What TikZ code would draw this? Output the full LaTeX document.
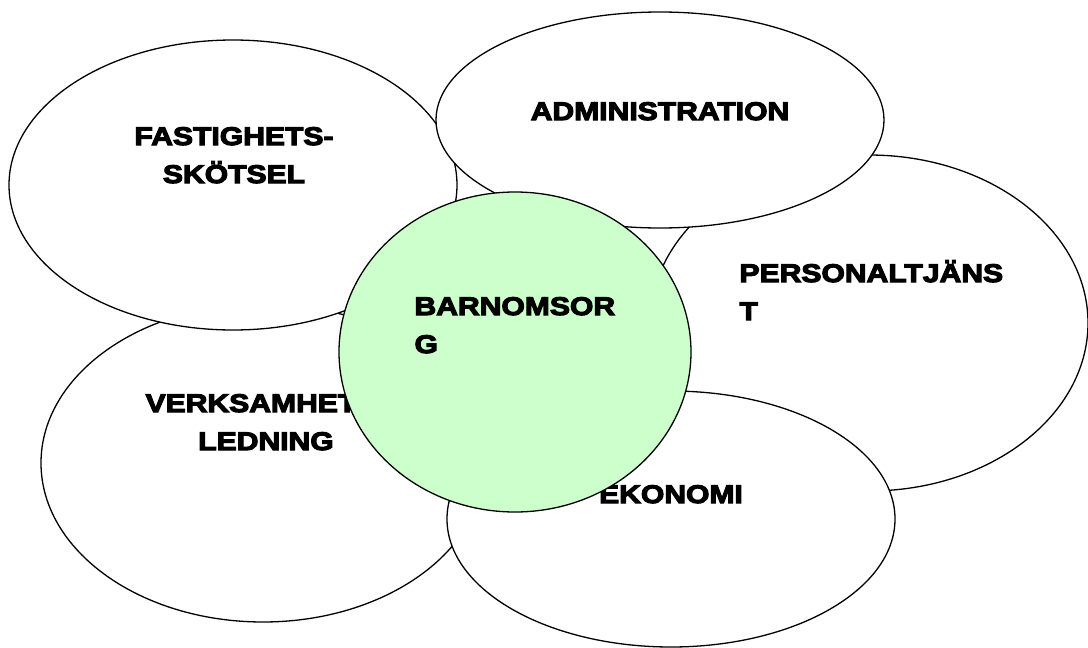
\documentclass[tikz,border=0pt]{standalone}
\usepackage{fontspec}
\usetikzlibrary{shapes.geometric}
\newfontfamily\lblfont{Liberation Sans}[FakeStretch=1.18,FakeBold=4.5]
\definecolor{ljusgron}{HTML}{CCFFCC}
\begin{document}
\begin{tikzpicture}[x=1pt,y=-1pt,
    blob/.style={draw, ellipse, fill=white, line width=1.3pt, inner sep=0pt},
    lbl/.style={font=\lblfont\bfseries\fontsize{25.5}{38}\selectfont, anchor=base, align=center}]
        \useasboundingbox (0,0) rectangle (1088,648);
        \node[blob, minimum width=444, minimum height=318] (verk) at (263,463) {};
        \node[lbl] (verktext) at (266,450) {VERKSAMHETS-\\LEDNING};
        \node[blob, minimum width=438, minimum height=336] (pers) at (869,323) {};
        \node[lbl, anchor=base west, align=left] (perstext) at (736,320) {PERSONALTJÄNS\\T};
        \node[blob, minimum width=448, minimum height=290] (fast) at (233,185) {};
        \node[lbl] (fasttext) at (234,183) {FASTIGHETS-\\SKÖTSEL};
        \node[blob, minimum width=448, minimum height=216] (adm) at (660,120) {};
        \node[lbl] (admtext) at (660,120) {ADMINISTRATION};
        \node[blob, minimum width=448, minimum height=256] (eko) at (671,519) {};
        \node[lbl] (ekotext) at (671,503) {EKONOMI};
        \node[blob, fill=ljusgron, minimum width=352, minimum height=320] (barn) at (515,352) {};
        \node[lbl, anchor=base west, align=left] (barntext) at (411,353) {BARNOMSOR\\G};
      \end{tikzpicture}
\end{document}
